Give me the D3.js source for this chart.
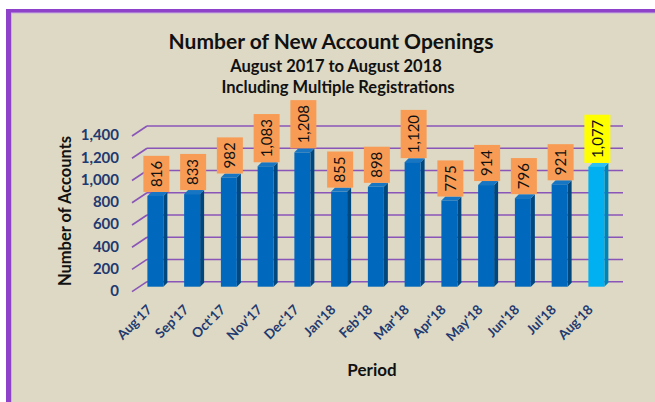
<!DOCTYPE html>
<html>
<head>
<meta charset="utf-8">
<script src="https://cdn.jsdelivr.net/npm/d3@7"></script>
<style>
  body { margin: 0; background: #ffffff; }
  svg { display: block; font-family: Lato, "Open Sans", sans-serif; }
</style>
</head>
<body>
<div id="chart"></div>
<script>
// data
const months = ["Aug'17", "Sep'17", "Oct'17", "Nov'17", "Dec'17", "Jan'18", "Feb'18",
                "Mar'18", "Apr'18", "May'18", "Jun'18", "Jul'18", "Aug'18"];
const openings = [816, 833, 982, 1083, 1208, 855, 898, 1120, 775, 914, 796, 921, 1077];
const yTicks = [0, 200, 400, 600, 800, 1000, 1200, 1400];

const width = 655, height = 402;

const svg = d3.select("#chart").append("svg")
    .attr("width", width)
    .attr("height", height);

// frame
svg.append("rect").attr("x", 6).attr("y", 9).attr("width", 700).attr("height", 500).attr("fill", "#8d42c9");
svg.append("rect").attr("x", 11).attr("y", 12.5).attr("width", 700).attr("height", 500).attr("fill", "#c9b2de");
svg.append("rect").attr("x", 12).attr("y", 13.5).attr("width", 700).attr("height", 500).attr("fill", "#ddd9c4");

// titles
svg.append("text").attr("x", 331).attr("y", 49)
    .attr("text-anchor", "middle").attr("font-size", 21).attr("font-weight", "bold")
    .attr("fill", "#111").text("Number of New Account Openings");
svg.append("text").attr("x", 336).attr("y", 72)
    .attr("text-anchor", "middle").attr("font-size", 16.5).attr("font-weight", "bold")
    .attr("fill", "#111").text("August 2017 to August 2018");
svg.append("text").attr("x", 338).attr("y", 93)
    .attr("text-anchor", "middle").attr("font-size", 16.5).attr("font-weight", "bold")
    .attr("fill", "#111").text("Including Multiple Registrations");

// scales (back wall of the 3d box)
const y = d3.scaleLinear().domain([0, 1400]).range([281.7, 126]);
const x = d3.scaleBand().domain(months).range([137, 614.75])
    .paddingInner(0.565).paddingOuter(0.2825);

const depth = {dx: 15, dy: 10};   // wall -> front of floor
const wallLeft = 147, wallRight = 623;

// gridlines
const grid = svg.append("g").attr("class", "grid")
    .attr("stroke", "#8a55b8").attr("stroke-width", 1.6).attr("fill", "none");
grid.selectAll(".h").data(yTicks).enter().append("line")
    .attr("x1", wallLeft).attr("x2", wallRight)
    .attr("y1", d => y(d)).attr("y2", d => y(d));
grid.selectAll(".d").data(yTicks).enter().append("line")
    .attr("x1", wallLeft - depth.dx).attr("x2", wallLeft)
    .attr("y1", d => y(d) + depth.dy).attr("y2", d => y(d));

// y axis labels (front edge)
const yFront = d3.scaleLinear().domain(y.domain()).range(y.range().map(v => v + 9));
const yAxis = svg.append("g")
    .attr("transform", "translate(122,0)")
    .call(d3.axisLeft(yFront).tickValues(yTicks).tickSize(0).tickPadding(3).tickFormat(d3.format(",")));
yAxis.select(".domain").remove();
yAxis.selectAll("text")
    .attr("font-family", "Lato, sans-serif")
    .attr("font-size", 15).attr("font-weight", "bold").attr("fill", "#1f3a70");

svg.append("text")
    .attr("transform", "translate(71,211) rotate(-90)")
    .attr("text-anchor", "middle").attr("font-size", 16.5).attr("font-weight", "bold")
    .attr("fill", "#111").text("Number of Accounts");

// bars
const barBase = y(0) + 5;
const unit = (y(0) - y(1400)) / 1400;
const side = 4;
const last = months.length - 1;

const bars = svg.selectAll(".bar").data(openings).enter().append("g").attr("class", "bar");

bars.append("polygon")   // side face
    .attr("points", (d, i) => {
        let x0 = x(months[i]) + x.bandwidth(), t = barBase - d * unit;
        return [[x0, t], [x0 + side, t - side], [x0 + side, barBase - side], [x0, barBase]].join(" ");
    })
    .attr("fill", (d, i) => i === last ? "#0084b5" : "#00477e");
bars.append("polygon")   // top face
    .attr("points", (d, i) => {
        let x0 = x(months[i]), t = barBase - d * unit;
        return [[x0, t], [x0 + side, t - side], [x0 + x.bandwidth() + side, t - side], [x0 + x.bandwidth(), t]].join(" ");
    })
    .attr("fill", (d, i) => i === last ? "#2cc0f4" : "#1676c4");
bars.append("rect")      // front face
    .attr("x", (d, i) => x(months[i]))
    .attr("y", d => barBase - d * unit)
    .attr("width", x.bandwidth())
    .attr("height", d => d * unit)
    .attr("fill", (d, i) => i === last ? "#00b0f0" : "#0068bd");

// value labels
const fmt = d3.format(",");
const labels = svg.selectAll(".vlabel").data(openings).enter().append("g").attr("class", "vlabel");
labels.each(function (d, i) {
    let g = d3.select(this);
    let cx = x(months[i]) + x.bandwidth() / 2 + 1;
    let bottom = barBase - d * unit - 4;
    let box = g.append("rect");
    let t = g.append("text")
        .attr("font-size", 15).attr("fill", "#111")
        .attr("text-anchor", "middle")
        .attr("dy", "0.35em")
        .text(fmt(d));
    let len = t.node().getComputedTextLength();
    let h = len + 10;
    box.attr("x", cx - 13).attr("y", bottom - h).attr("width", 26).attr("height", h)
        .attr("fill", i === last ? "#ffff00" : "#f89c55");
    t.attr("transform", `translate(${cx},${bottom - h / 2}) rotate(-90)`);
});

// x axis labels
const xAxis = svg.append("g")
    .call(d3.axisBottom(x).tickSize(0));
xAxis.select(".domain").remove();
xAxis.selectAll("text")
    .attr("font-family", "Lato, sans-serif")
    .attr("font-size", 13.5).attr("font-weight", "bold").attr("fill", "#1f3a70")
    .attr("text-anchor", "end")
    .attr("x", 0).attr("y", 0).attr("dy", "0.35em")
    .attr("transform", "translate(-6,307) rotate(-45)");

svg.append("text").attr("x", 372).attr("y", 376)
    .attr("text-anchor", "middle").attr("font-size", 17).attr("font-weight", "bold")
    .attr("fill", "#111").text("Period");
</script>
</body>
</html>
